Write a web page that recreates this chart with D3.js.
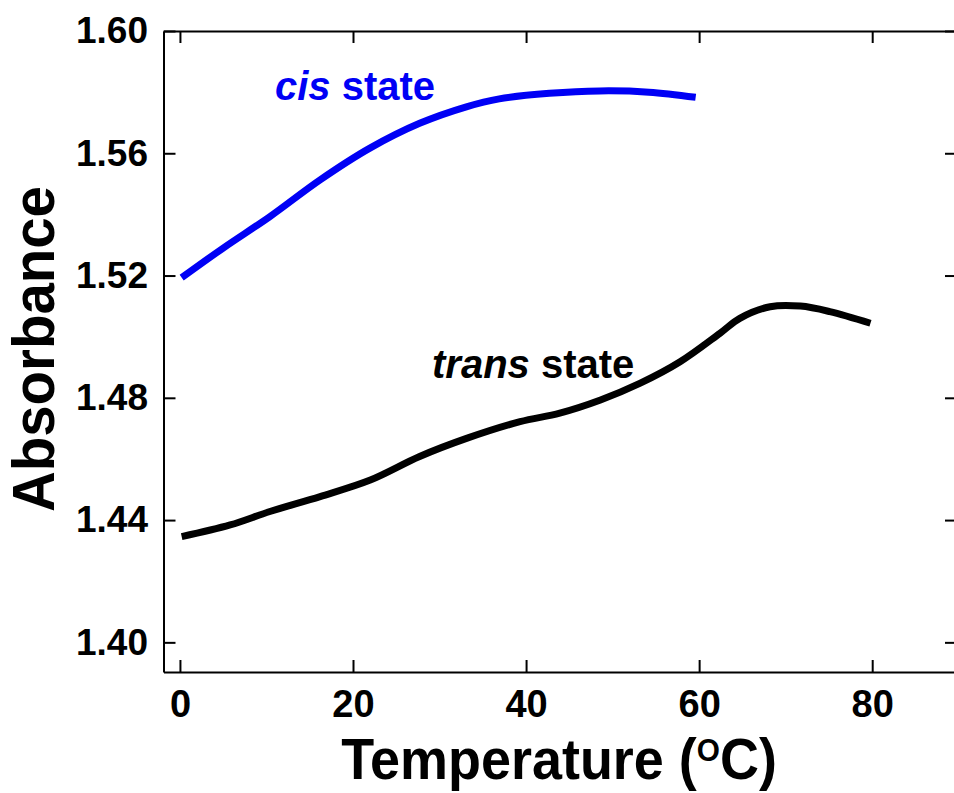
<!DOCTYPE html>
<html>
<head>
<meta charset="utf-8">
<script src="https://cdn.jsdelivr.net/npm/d3@7"></script>
<style>
  body { margin: 0; background: #fff; }
  text { font-family: "Liberation Sans", Arial, sans-serif; font-weight: bold; }
</style>
</head>
<body>
<div id="chart"></div>
<script>
// data
var cisTemp  = [0.2, 5, 10.4, 16.2, 21.9, 27.7, 33.1, 36.9, 42.7, 48.5, 54.2, 59.6];
var cisAbs   = [1.5193, 1.529, 1.5393, 1.5513, 1.5616, 1.5698, 1.5752, 1.5778, 1.5796, 1.5804, 1.580, 1.5783];
var transTemp = [0.2, 5.8, 10.4, 16.2, 22.0, 27.7, 33.2, 39.3, 43.9, 48.6, 53.2, 57.8, 62.4, 64.7, 68.2, 71.7, 75.1, 79.8];
var transAbs  = [1.4346, 1.4384, 1.4428, 1.4477, 1.4531, 1.4608, 1.4668, 1.4722, 1.475, 1.4793, 1.4848, 1.4918, 1.5011, 1.506, 1.5098, 1.51, 1.5082, 1.5044];
var xTicks = [0, 20, 40, 60, 80];
var yTicks = [1.40, 1.44, 1.48, 1.52, 1.56, 1.60];

var width = 954, height = 793;
var plotLeft = 163.5, plotRight = 957, plotTop = 31, plotBottom = 672;

var svg = d3.select('#chart').append('svg')
    .attr('width', width)
    .attr('height', height);

var x = d3.scaleLinear().domain([-1.9, 89.8]).range([plotLeft, plotRight]);
var y = d3.scaleLinear().domain([1.3903, 1.60]).range([plotBottom, plotTop]);

// axes, ticks point inward on all four sides
var xAxis = svg.append('g')
    .attr('transform', 'translate(0,' + plotBottom + ')')
    .call(d3.axisBottom(x).tickValues(xTicks).tickSizeInner(-12).tickSizeOuter(0).tickPadding(18).tickFormat(d3.format('d')));
var xTop = svg.append('g')
    .attr('transform', 'translate(0,' + plotTop + ')')
    .call(d3.axisTop(x).tickValues(xTicks).tickSizeInner(-12).tickSizeOuter(0).tickFormat(''));
var yAxis = svg.append('g')
    .attr('transform', 'translate(' + plotLeft + ',0)')
    .call(d3.axisLeft(y).tickValues(yTicks).tickSizeInner(-12).tickSizeOuter(0).tickPadding(15.5).tickFormat(d3.format('.2f')));
var yRight = svg.append('g')
    .attr('transform', 'translate(' + plotRight + ',0)')
    .call(d3.axisRight(y).tickValues(yTicks).tickSizeInner(-12).tickSizeOuter(0).tickFormat(''));

svg.selectAll('.domain, .tick line')
    .attr('stroke', '#000')
    .attr('stroke-width', 2);

xAxis.selectAll('text')
    .style('font-size', '38px')
    .attr('fill', '#000');
yAxis.selectAll('text')
    .style('font-size', '37px')
    .attr('fill', '#000');

// curves
var line = d3.line()
    .x(function(d){ return x(d[0]); })
    .y(function(d){ return y(d[1]); })
    .curve(d3.curveCatmullRom.alpha(0.5));

svg.append('path')
    .datum(d3.zip(cisTemp, cisAbs))
    .attr('fill', 'none')
    .attr('stroke', '#0000f5')
    .attr('stroke-width', 7)
    .attr('d', line);

svg.append('path')
    .datum(d3.zip(transTemp, transAbs))
    .attr('fill', 'none')
    .attr('stroke', '#000')
    .attr('stroke-width', 7)
    .attr('d', line);

// curve labels
var cisLabel = svg.append('text')
    .attr('x', 275)
    .attr('y', 100)
    .attr('fill', '#0000f5')
    .style('font-size', '40px');
cisLabel.append('tspan').style('font-style', 'italic').text('cis');
cisLabel.append('tspan').text(' state');

var transLabel = svg.append('text')
    .attr('x', 432)
    .attr('y', 378)
    .attr('fill', '#000')
    .style('font-size', '40px');
transLabel.append('tspan').style('font-style', 'italic').text('trans');
transLabel.append('tspan').text(' state');

// axis titles
var xTitle = svg.append('text')
    .attr('transform', 'translate(559,779) scale(0.93,1)')
    .attr('text-anchor', 'middle')
    .style('font-size', '58px');
xTitle.append('tspan').text('Temperature (');
xTitle.append('tspan').attr('dy', -18).style('font-size', '32px').text('O');
xTitle.append('tspan').attr('dy', 18).text('C)');

svg.append('text')
    .attr('transform', 'translate(54,349) rotate(-90) scale(0.94,1)')
    .attr('text-anchor', 'middle')
    .style('font-size', '60px')
    .text('Absorbance');
</script>
</body>
</html>
